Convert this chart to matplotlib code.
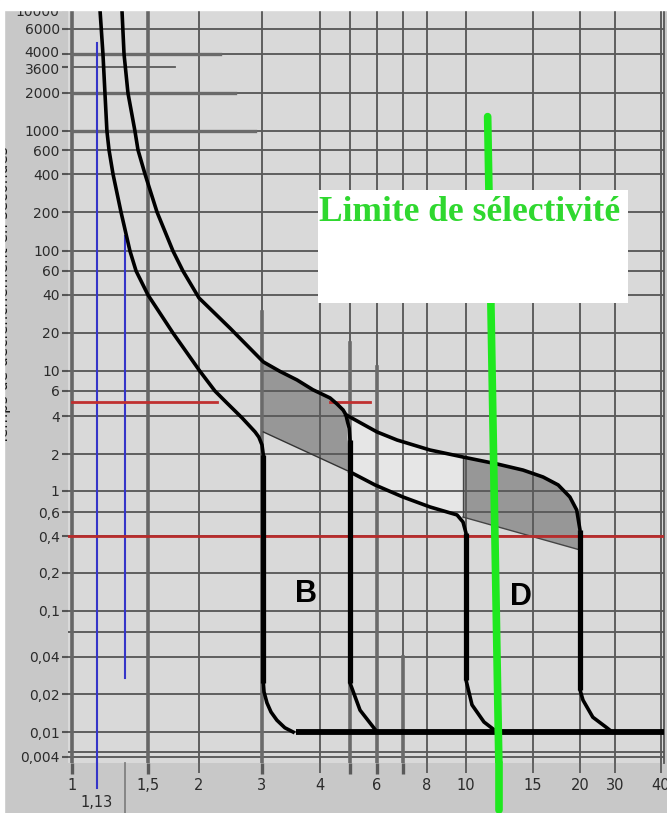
import numpy as np
import matplotlib

matplotlib.use("Agg")
import matplotlib.pyplot as plt
from matplotlib.patches import Rectangle
from matplotlib.ticker import NullLocator
from matplotlib.transforms import ScaledTranslation

# graduations of the (hand made) log-log paper
x_ticks = [1, 1.5, 2, 3, 4, 5, 6, 7, 8, 10, 15, 20, 30, 40]
x_tick_labels = ["1", "1,5", "2", "3", "4", "", "6", "", "8", "10", "15", "20", "30", "40"]
y_ticks = [10000, 6000, 4000, 3600, 2000, 1000, 600, 400, 200, 100, 60, 40, 20, 10,
           6, 4, 2, 1, 0.6, 0.4, 0.2, 0.1, 0.04, 0.02, 0.01, 0.004]
grid_x = [1, 1.5, 2, 3, 4, 5, 6, 7, 8, 10, 15, 20, 30, 40]
grid_t = [10000, 6000, 4000, 2000, 1000, 600, 400, 200, 100, 60, 40, 20, 10, 6, 4, 2,
          1, 0.6, 0.4, 0.2, 0.1, 0.06, 0.04, 0.02, 0.01, 0.006, 0.004]

# curve B (multiples of In, seconds)
b_low_x = [1.149, 1.168, 1.181, 1.194, 1.208, 1.235, 1.291, 1.357, 1.404, 1.5, 1.727, 2.01,
           2.216, 2.394, 2.64, 2.87, 2.94, 3.0, 3.01, 3.02, 3.02, 3.03, 3.075, 3.137, 3.23,
           3.36, 3.5]
b_low_t = [10000, 4000, 2000, 1000, 600, 400, 200, 100, 60, 40, 20, 10,
           6, 4.94, 3.86, 2.99, 2.72, 2.36, 2.15, 1.95, 0.0246, 0.0208, 0.017, 0.0144, 0.0124,
           0.0108, 0.01]
b_up_x = [1.298, 1.313, 1.342, 1.395, 1.419, 1.475, 1.578, 1.727, 1.827, 2.0, 2.44, 3.02,
          3.28, 3.57, 3.86, 4.31, 4.54, 4.75, 4.85, 4.92, 4.97, 5.0, 5.0, 5.35, 5.84, 6.0]
b_up_t = [10000, 4000, 2000, 1000, 600, 400, 200, 100, 60, 37.9, 21.9, 11.8,
          9.9, 7.95, 6.2, 5.36, 4.86, 4.41, 4.08, 3.52, 3.2, 2.58, 0.0246, 0.0149, 0.011, 0.01]

# curve D
d_up_x = [4.85, 6.0, 6.76, 8.14, 9.83, 12.06, 14.12, 15.95, 17.5, 18.8, 19.6, 20.0, 20.0,
          20.7, 23.2, 27.3, 29.0]
d_up_t = [4.08, 2.99, 2.58, 2.15, 1.89, 1.66, 1.48, 1.30, 1.12, 0.864, 0.63, 0.443, 0.0216,
          0.0179, 0.0131, 0.0108, 0.01]
d_low_x = [5.0, 5.92, 7.0, 8.14, 9.5, 9.83, 10.0, 10.0, 10.37, 11.15, 12.06]
d_low_t = [1.43, 1.12, 0.864, 0.678, 0.571, 0.507, 0.42, 0.026, 0.0164, 0.012, 0.01]
d_low_thin_x = [3.02, 5.0]
d_low_thin_t = [2.99, 1.43]
sel_bottom_x = [9.83, 20.0]
sel_bottom_t = [0.551, 0.308]

floor_x = [3.55, 41]
floor_t = 0.01

# marks on the paper
blue_x = [1.13, 1.32]
blue_top = [4800, 130]
blue_bottom = [None, 0.027]
red_5s_segments = [(1, 2.25), (4.31, 5.72)]
red_t = [5, 0.4]
green_x = [11.4, 12.2]
green_t = [1300, None]
thick_v_x = [3, 5, 6, 7]
thick_v_top = [29.3, 16.7, 10.8, 0.04]
part_h_t = [4000, 2000, 1000]
part_h_end = [2.29, 2.52, 2.87]
h3600_end = 1.75
box_x = [3.96, 32.6]
box_t = [34.6, 299]

# pixel position of each graduation on the original sheet
X_SCALE_VAL = [1, 1.13, 1.5, 2, 3, 4, 5, 6, 7, 8, 10, 15, 20, 30, 40]
X_SCALE_PX = [72, 97, 148, 199, 262, 320, 350, 377, 403, 427, 466, 533, 580, 615, 661]
Y_SCALE_VAL = [10000, 6000, 4000, 3600, 2000, 1000, 600, 400, 200, 100, 60, 40, 20, 10,
               6, 4, 2, 1, 0.6, 0.4, 0.2, 0.1, 0.06, 0.04, 0.02, 0.01, 0.006, 0.004]
Y_SCALE_PX = [10, 29, 54, 67, 93, 131, 150, 174, 212, 251, 271, 295, 333, 371,
              391, 416, 454, 491, 512, 536, 573, 611, 632, 657, 694, 732, 752, 757]

W, H = 667, 813


def _interp_ext(x, xp, fp):
    x = np.asarray(x, dtype=float)
    shape = x.shape
    x = x.ravel()
    y = np.interp(x, xp, fp)
    lo = x < xp[0]
    hi = x > xp[-1]
    y[lo] = fp[0] + (x[lo] - xp[0]) * (fp[1] - fp[0]) / (xp[1] - xp[0])
    y[hi] = fp[-1] + (x[hi] - xp[-1]) * (fp[-1] - fp[-2]) / (xp[-1] - xp[-2])
    return y.reshape(shape)


LX = np.log10(X_SCALE_VAL)
PX = np.array(X_SCALE_PX, dtype=float)
LY = np.log10(Y_SCALE_VAL)[::-1]
PY = np.array(Y_SCALE_PX, dtype=float)[::-1]


def x_fwd(v):
    return _interp_ext(np.log10(np.clip(np.asarray(v, dtype=float), 1e-9, None)), LX, PX)


def x_inv(p):
    return 10 ** _interp_ext(p, PX, LX)


def y_fwd(v):
    return -_interp_ext(np.log10(np.clip(np.asarray(v, dtype=float), 1e-9, None)), LY, PY)


def y_inv(p):
    return 10 ** _interp_ext(-np.asarray(p, dtype=float), PY[::-1], LY[::-1])


fig = plt.figure(figsize=(W / 100, H / 100), dpi=100, facecolor="#c8c8c8")
ax = fig.add_axes([68 / W, (H - 763) / H, (664 - 68) / W, (763 - 10) / H])
ax.set_xscale("function", functions=(x_fwd, x_inv))
ax.set_yscale("function", functions=(y_fwd, y_inv))
ax.set_xlim(float(x_inv(68.0)), float(x_inv(664.0)))
ymin = float(y_inv(-763.0))
ax.set_ylim(ymin, 10000)
ax.set_facecolor("#d9d9d9")
for side in ["left", "top", "bottom"]:
    ax.spines[side].set_visible(False)
ax.spines["right"].set_color("#555555")
ax.spines["right"].set_linewidth(1.3)

grid_c = "#5a5a5a"
for v in grid_x:
    ax.axvline(v, color=grid_c, lw=1.35, zorder=2)
for t in grid_t:
    ax.axhline(t, color=grid_c, lw=1.35, zorder=2)
ax.axvline(1, color="#666666", lw=2.6, zorder=2.2)
ax.axvline(1.5, color="#666666", lw=2.6, zorder=2.2)
for v, top in zip(thick_v_x, thick_v_top):
    ax.plot([v, v], [top, ymin], color="#6a6a6a", lw=2.6, zorder=2.2)
for t, end in zip(part_h_t, part_h_end):
    ax.plot([1, end], [t, t], color="#6a6a6a", lw=2.4, zorder=2.2)
ax.plot([1, h3600_end], [3600, 3600], color=grid_c, lw=1.3, zorder=2)

# shaded selectivity zones
ax.fill(b_up_x[11:22] + d_low_thin_x[::-1], b_up_t[11:22] + d_low_thin_t[::-1],
        color="#979797", lw=0, zorder=1)
ax.fill(d_up_x[0:5] + d_low_x[0:6][::-1], d_up_t[0:5] + d_low_t[0:6][::-1],
        color="#e6e6e6", lw=0, zorder=1)
ax.fill(d_up_x[4:12] + sel_bottom_x[::-1], d_up_t[4:12] + sel_bottom_t[::-1],
        color="#979797", lw=0, zorder=1)
ax.plot(d_low_thin_x, d_low_thin_t, color="#333333", lw=1.0, zorder=3)
ax.plot(sel_bottom_x, sel_bottom_t, color="#444444", lw=1.0, zorder=3)
ax.plot([sel_bottom_x[0]] * 2, [d_up_t[4], sel_bottom_t[0]], color="#444444", lw=1.0, zorder=3)

# blue, red lines
xb = ax.get_xaxis_transform()
ax.plot([blue_x[0]] * 2, [blue_top[0], ymin], color="#3535c8", lw=1.5, zorder=3)
ax.plot([blue_x[0]] * 2, [0, -0.033], color="#3535c8", lw=1.5, transform=xb, clip_on=False)
ax.plot([blue_x[1]] * 2, [blue_top[1], blue_bottom[1]], color="#3535c8", lw=1.5, zorder=3)
ax.plot([blue_x[1]] * 2, [0, -0.07], color="#808080", lw=1.3, transform=xb, clip_on=False)
for x0, x1 in red_5s_segments:
    ax.plot([x0, x1], [red_t[0]] * 2, color="#c03030", lw=2.0, zorder=3.5)
ax.axhline(red_t[1], color="#b82c2c", lw=2.0, zorder=3.5)


def draw_curve(xs, ts, lw):
    ax.plot(xs, ts, color="black", lw=lw, zorder=4, solid_joinstyle="round")
    for i in range(len(xs) - 1):
        if xs[i] == xs[i + 1]:
            ax.plot(xs[i:i + 2], ts[i:i + 2], color="black", lw=lw * 1.45, zorder=4,
                    solid_capstyle="butt")


draw_curve(b_low_x, b_low_t, 2.6)
draw_curve(b_up_x, b_up_t, 2.6)
draw_curve(d_up_x, d_up_t, 2.6)
draw_curve(d_low_x, d_low_t, 2.6)
ax.plot(floor_x, [floor_t] * 2, color="black", lw=4.2, zorder=4, solid_capstyle="butt")

ax.text(3.73, 0.136, "B", fontsize=22, fontweight="bold", family="Liberation Sans",
        ha="center", va="center", zorder=5)
ax.text(13.95, 0.129, "D", fontsize=22, fontweight="bold", family="Liberation Sans",
        ha="center", va="center", zorder=5)

# selectivity limit
ax.plot(green_x, [green_t[0], ymin], color="#1fe81f", lw=5.5, zorder=5, solid_capstyle="round")
ax.plot([green_x[1]] * 2, [0, -0.062], color="#1fe81f", lw=5.5, transform=xb,
        clip_on=False, solid_capstyle="round", zorder=5)
ax.fill([box_x[0], box_x[1], box_x[1], box_x[0]], [box_t[0], box_t[0], box_t[1], box_t[1]],
        color="white", lw=0, zorder=6)
ax.text(box_x[0] * 1.005, 198, "Limite de sélectivité", family="Liberation Serif",
        fontweight="bold", fontsize=25.5, color="#2fd82f", ha="left", va="center", zorder=7)

# ticks
ax.xaxis.set_minor_locator(NullLocator())
ax.yaxis.set_minor_locator(NullLocator())
ax.set_xticks(x_ticks)
ax.set_xticklabels(x_tick_labels)
ax.set_yticks(y_ticks)
ax.set_yticklabels([f"{v:g}".replace(".", ",") for v in y_ticks])
ax.tick_params(axis="x", direction="out", length=7, width=1.3, color="#5a5a5a", pad=4,
               labelsize=10.5, labelcolor="#2b2b2b")
ax.tick_params(axis="y", direction="out", length=4, width=1.5, color="#555555", pad=2,
               labelsize=10, labelcolor="#2b2b2b")
for tick, v in zip(ax.xaxis.get_major_ticks(), x_ticks):
    if v in (1, 1.5, 3, 5, 6, 7):
        tick.tick1line.set_markeredgewidth(2.4)
        tick.tick1line.set_markersize(8)
for lab in ax.get_yticklabels():
    if lab.get_text() == "4000":
        lab.set_transform(lab.get_transform() + ScaledTranslation(0, 0.025, fig.dpi_scale_trans))
    if lab.get_text() == "3600":
        lab.set_transform(lab.get_transform() + ScaledTranslation(0, -0.01, fig.dpi_scale_trans))
ax.text(1.13, -0.053, "1,13", transform=xb, ha="center", va="center", fontsize=10.5,
        color="#2b2b2b")

fig.text(11 / W, 1 - 295 / H, "Temps de déclenchement en secondes", rotation=90,
         ha="right", va="center", fontsize=11, color="#111111")
fig.add_artist(Rectangle((0, 1 - 10 / H), 1, 10 / H, transform=fig.transFigure,
                         color="white", zorder=20))
fig.add_artist(Rectangle((0, 0), 4 / W, 1, transform=fig.transFigure, color="white", zorder=20))

fig.savefig("out.png", dpi=100, facecolor=fig.get_facecolor())
